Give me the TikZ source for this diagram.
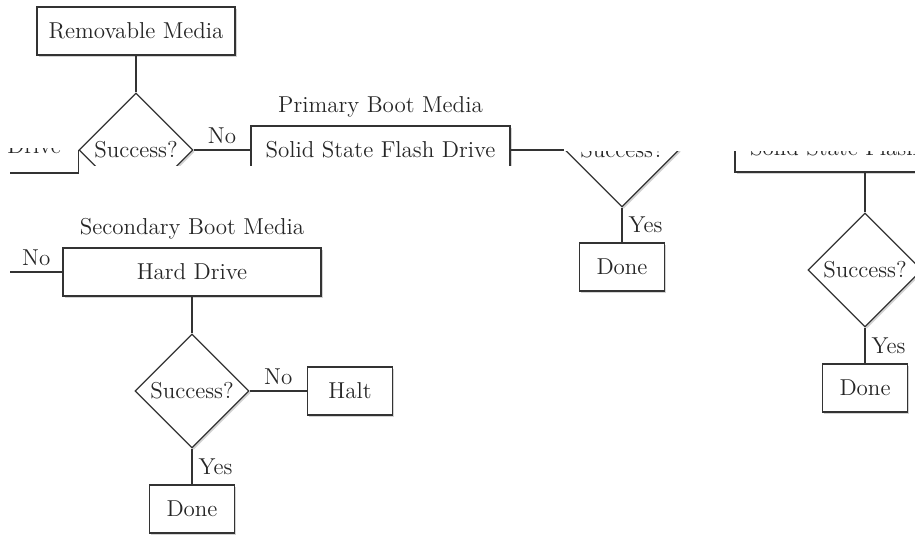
\documentclass[tikz,border=0pt]{standalone}
\usepackage{tikz}
\usetikzlibrary{shapes.geometric,shadows}

\begin{document}
\begin{tikzpicture}[x=0.5pt, y=-0.5pt, font=\fontsize{11.5}{13}\selectfont,
  every node/.style={inner sep=0pt, text=black!85},
  shade box/.style={draw=black!80, fill=white, line width=0.6pt,
    drop shadow={shadow xshift=0.9pt, shadow yshift=-0.9pt, opacity=0.35}},
  mediabox/.style={shade box, minimum width=#1, minimum height=24pt},
  endbox/.style={shade box, minimum width=42.5pt, minimum height=24pt},
  decision/.style={shade box, diamond, aspect=1, minimum size=57pt},
  conn/.style={draw=black!80, line width=0.6pt},
  lbl/.style={font=\fontsize{11.5}{13}\selectfont}]
  \useasboundingbox (0,0) rectangle (915,537);

  % first row, cut off under the band
  \node[mediabox=99pt] (rm) at (136,31) {Removable Media};
  \begin{scope}
    \clip (0,0) rectangle (540,165);
    \node[decision] (s1) at (136,150) {Success?};
    \node[mediabox=129.5pt] (pb) at (380.5,150) {Solid State Flash Drive};
  \end{scope}
  \node[lbl, above=4pt] (pbm) at (pb.north) {Primary Boot Media};
  \begin{scope}
    \clip (0,148) rectangle (75,162);
    \node[lbl] (frag) at (34,146) {Drive};
  \end{scope}
  \coordinate (dl) at (10,173);

  % second row, only the lower part is left
  \begin{scope}
    \clip (540,151) rectangle (915,537);
    \node[decision] (s2) at (622,150) {Success?};
    \node[mediabox=130pt] (rb) at (865,148) {Solid State Flash Drive};
  \end{scope}
  \node[endbox] (d2) at (622,267) {Done};
  \node[decision] (s3) at (865,270) {Success?};
  \node[endbox] (d3) at (865,388) {Done};

  % secondary boot media
  \node[mediabox=129pt] (hd) at (192,272) {Hard Drive};
  \node[lbl, above=4pt] (sbm) at (hd.north) {Secondary Boot Media};
  \coordinate (hl) at (10,272);
  \node[decision] (s4) at (192,391) {Success?};
  \node[endbox] (halt) at (350,391) {Halt};
  \node[endbox] (d4) at (192,509) {Done};

  % connectors
  \draw[conn] (rm) -- (s1);
  \draw[conn] (s1.west) |- (dl);
  \draw[conn] (s1.east) -- node[lbl, above=3pt]{No} (pb.west);
  \draw[conn] (pb.east) -- (s2.west);
  \draw[conn] (s2.south) -- node[lbl, right=3pt]{Yes} (d2.north);
  \draw[conn] (rb.south) -- (s3.north);
  \draw[conn] (s3.south) -- node[lbl, right=3pt]{Yes} (d3.north);
  \draw[conn] (hl) -- node[lbl, above=3pt]{No} (hd.west);
  \draw[conn] (hd.south) -- (s4.north);
  \draw[conn] (s4.east) -- node[lbl, above=3pt]{No} (halt.west);
  \draw[conn] (s4.south) -- node[lbl, right=3pt]{Yes} (d4.north);
\end{tikzpicture}
\end{document}
